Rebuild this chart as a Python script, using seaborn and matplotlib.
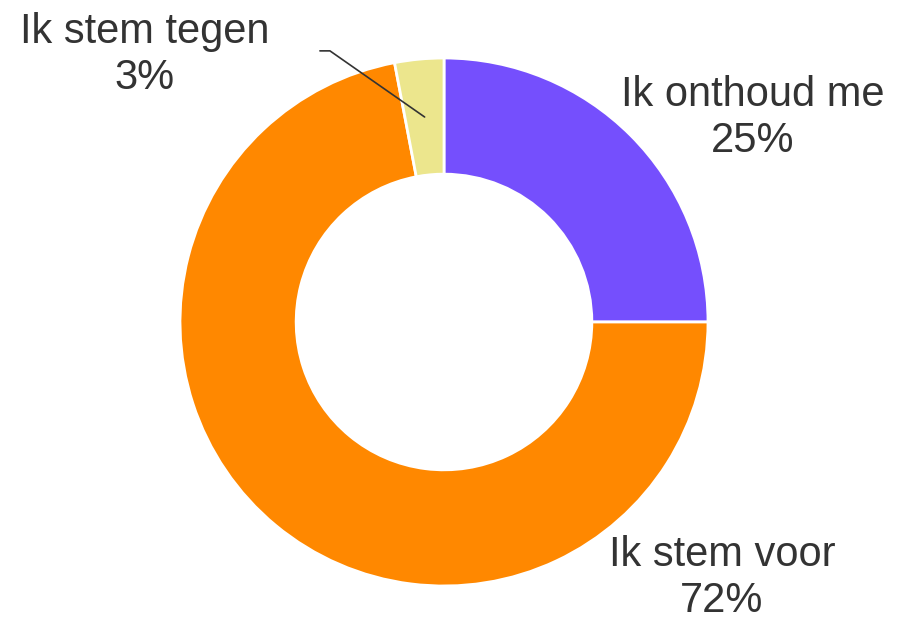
import numpy as np
import matplotlib.pyplot as plt
import seaborn as sns

# vote shares, clockwise from the top
labels = ["Ik onthoud me", "Ik stem voor", "Ik stem tegen"]
shares = [25, 72, 3]
colors = ["#754FFD", "#FF8800", "#ECE68D"]

sns.set_theme(style="white")
plt.rcParams['font.family'] = ['Liberation Sans', 'DejaVu Sans']

fig = plt.figure(figsize=(8.97, 6.2), dpi=100)
ax = fig.add_axes([0, 0, 1, 1])

wedges, _ = ax.pie(shares, colors=colors, startangle=90, counterclock=False,
                   radius=1.0, wedgeprops=dict(width=0.44, edgecolor="white", linewidth=2))

txt = "#333333"
fs = 30
pct = [f"{s}%" for s in shares]

# outside labels for the two big slices
ax.text(1.170, 0.773, f"{labels[0]}\n{pct[0]}", ha="center", va="center",
        fontsize=fs, color=txt, linespacing=1.2)
ax.text(1.053, -0.970, f"{labels[1]}\n{pct[1]}", ha="center", va="center",
        fontsize=fs, color=txt, linespacing=1.2)

# small slice gets a leader line
w = wedges[2]
mid = np.deg2rad((w.theta1 + w.theta2) / 2)
anchor = (0.78 * np.cos(mid), 0.78 * np.sin(mid))
ax.plot([-0.470, -0.432, anchor[0]], [1.027, 1.027, anchor[1]], color="#333333", lw=1.2)
ax.text(-1.133, 1.011, f"{labels[2]}\n{pct[2]}", ha="center", va="center",
        fontsize=fs, color=txt, linespacing=1.2)

ax.set_xlim(-444 / 264, 453 / 264)
ax.set_ylim(-298 / 264, 322 / 264)
ax.set_aspect("equal")
ax.axis("off")

fig.savefig("out.png", dpi=100, facecolor="white")
